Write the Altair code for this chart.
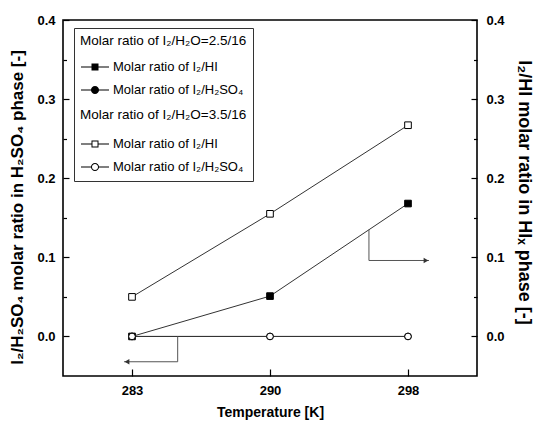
import altair as alt
import pandas as pd

# ---------------- data ----------------
temps = ["283", "290", "298"]
pos = [1, 2, 3]

hi_low = [0.0, 0.051, 0.168]      # I2/H2O = 2.5/16, I2/HI   (filled squares, right axis)
h2so4_low = [0.0, 0.0, 0.0]       # I2/H2O = 2.5/16, I2/H2SO4 (filled circles, left axis)
hi_high = [0.05, 0.155, 0.267]    # I2/H2O = 3.5/16, I2/HI   (open squares, right axis)
h2so4_high = [0.0, 0.0, 0.0]      # I2/H2O = 3.5/16, I2/H2SO4 (open circles, left axis)

y_major = [0.0, 0.1, 0.2, 0.3, 0.4]
y_minor = [0.05, 0.15, 0.25, 0.35]

arrow_left_x = [1.331, 1.331, 0.942]
arrow_left_y = [0.0, -0.032, -0.032]
arrow_right_x = [2.717, 2.717, 3.152]
arrow_right_y = [0.135, 0.096, 0.096]

S2, S4, SX = "\u2082", "\u2084", "\u2093"
lbl_hi = f"Molar ratio of I{S2}/HI"
lbl_so4 = f"Molar ratio of I{S2}/H{S2}SO{S4}"
head_low = f"Molar ratio of I{S2}/H{S2}O=2.5/16"
head_high = f"Molar ratio of I{S2}/H{S2}O=3.5/16"
title_left = f"I{S2}/H{S2}SO{S4} molar ratio in H{S2}SO{S4} phase [-]"
title_right = f"I{S2}/HI molar ratio in HI{SX} phase [-]"
title_x = "Temperature [K]"

# ---------------- tables ----------------
series = [("hi_low", hi_low), ("so4_low", h2so4_low), ("hi_high", hi_high), ("so4_high", h2so4_high)]
df = pd.DataFrame([{"series": s, "pos": p, "value": v}
                   for s, vals in series for p, v in zip(pos, vals)])
df_arrows = pd.DataFrame(
    [{"arrow": "left", "step": i, "pos": x, "value": y}
     for i, (x, y) in enumerate(zip(arrow_left_x, arrow_left_y))]
    + [{"arrow": "right", "step": i, "pos": x, "value": y}
       for i, (x, y) in enumerate(zip(arrow_right_x, arrow_right_y))])
df_legend = pd.DataFrame({"entry": [lbl_hi, lbl_so4]})

SANS = "Liberation Sans"

label_expr = "[" + ",".join(f"'{t}'" for t in temps) + "][datum.value - 1]"

xenc = alt.X("pos:Q",
             scale=alt.Scale(domain=[0.5, 3.5], nice=False, zero=False),
             axis=alt.Axis(values=pos, labelExpr=label_expr, title=title_x,
                           tickSize={"expr": "-7"}, labelPadding=15, titlePadding=8,
                           titleFontSize=14))


def yenc(axis):
    return alt.Y("value:Q", scale=alt.Scale(domain=[-0.05, 0.4], nice=False, zero=False), axis=axis)


ax_left_major = alt.Axis(orient="left", values=y_major, format=".1f", tickSize={"expr": "-6"},
                         labelPadding=14, title=title_left, titlePadding=10, titleY=187,
                         titleFontSize=17)
ax_left_minor = alt.Axis(orient="left", values=y_minor, labels=False, tickSize={"expr": "-3.5"},
                         title=None)
ax_right_major = alt.Axis(orient="right", values=y_major, format=".1f", tickSize={"expr": "-6"},
                          labelPadding=15, title=title_right, titlePadding=10, titleY=172)
ax_right_minor = alt.Axis(orient="right", values=y_minor, labels=False, tickSize={"expr": "-3.5"},
                          title=None)

lines = alt.Chart(df).mark_line(color="#333333", strokeWidth=1).encode(
    x=xenc, y=yenc(ax_left_major), detail="series:N", order="pos:Q")

arrows = alt.Chart(df_arrows).mark_line(color="#555555", strokeWidth=1).encode(
    x=xenc, y=yenc(None), detail="arrow:N", order="step:Q")

head_left = alt.Chart(df_arrows).transform_filter(
    "datum.arrow == 'left' && datum.step == 2").mark_point(
    shape="triangle-left", filled=True, color="#333333", size=30, opacity=1, xOffset=3).encode(
    x=xenc, y=yenc(None))
head_right = alt.Chart(df_arrows).transform_filter(
    "datum.arrow == 'right' && datum.step == 2").mark_point(
    shape="triangle-right", filled=True, color="#333333", size=30, opacity=1, xOffset=-3).encode(
    x=xenc, y=yenc(None))


def pts(name, shape, fill, axis):
    return alt.Chart(df).transform_filter(f"datum.series == '{name}'").mark_point(
        shape=shape, filled=True, fill=fill, stroke="black", strokeWidth=1,
        size=44, opacity=1).encode(x=xenc, y=yenc(axis))


p_hi_low = pts("hi_low", "square", "black", ax_right_major)
p_hi_high = pts("hi_high", "square", "white", ax_right_minor)
p_so4_low = pts("so4_low", "circle", "black", ax_left_minor)
p_so4_high = pts("so4_high", "circle", "white", None)

# legend symbols (line + marker), drawn as filled outlines
bars = "M-1,-0.036H-0.25V0.036H-1ZM0.25,-0.036H1V0.036H0.25Z"
path_sq_full = bars + "M-0.25,-0.25H0.25V0.25H-0.25Z"
path_ci_full = bars + "M0.29,0A0.29,0.29,0,1,1,-0.29,0A0.29,0.29,0,1,1,0.29,0Z"
path_sq_open = bars + "M-0.25,-0.25H0.25V0.25H-0.25ZM-0.18,-0.18V0.18H0.18V-0.18Z"
path_ci_open = (bars + "M0.29,0A0.29,0.29,0,1,1,-0.29,0A0.29,0.29,0,1,1,0.29,0Z"
                + "M0.215,0A0.215,0.215,0,1,0,-0.215,0A0.215,0.215,0,1,0,0.215,0Z")

leg_common = dict(orient="none", padding=6, labelFont=SANS, labelFontSize=13,
                  labelColor="black", labelOffset=3, labelLimit=400, rowPadding=1,
                  symbolSize=784, titleLimit=400)

leg_a = alt.Chart(df_legend).transform_filter("false").mark_point(
    filled=True, color="black", size=784, opacity=1).encode(
    shape=alt.Shape("entry:N",
                    scale=alt.Scale(domain=[lbl_hi, lbl_so4], range=[path_sq_full, path_ci_full]),
                    legend=alt.Legend(title=None, legendX=11, legendY=26, **leg_common)))

ZW = "\u200b"
leg_b = alt.Chart(df_legend).transform_filter("false").mark_point(
    filled=True, color="black", size=784, opacity=1).encode(
    shape=alt.Shape("entry:N",
                    scale=alt.Scale(domain=[lbl_hi, lbl_so4], range=[path_sq_open, path_ci_open]),
                    legend=alt.Legend(title=[head_low, ZW, ZW, head_high], titleFont=SANS,
                                      titleFontSize=13.5, titleFontWeight="normal", titleColor="black",
                                      titleLineHeight=24.5, titlePadding=8, strokeColor="#333333",
                                      legendX=11, legendY=8, **leg_common)))

chart = alt.layer(
    lines, arrows, head_left, head_right,
    p_hi_low, p_hi_high, p_so4_low, p_so4_high,
    leg_a, leg_b,
).resolve_scale(y="independent", shape="independent").properties(
    width=414, height=356,
    autosize=alt.AutoSizeParams(type="none"),
    padding={"left": 63, "top": 20, "right": 59, "bottom": 50},
    background="white",
).configure_view(stroke="black", strokeWidth=1.6).configure_axis(
    grid=False, domain=False,
    labelFont=SANS, labelFontSize=13, labelFontWeight="bold", labelColor="black",
    tickColor="black", tickWidth=1.2,
    titleFont=SANS, titleFontSize=18, titleFontWeight="bold", titleColor="black",
)

chart.save("out.html", embed_options={"renderer": "svg", "actions": False})
